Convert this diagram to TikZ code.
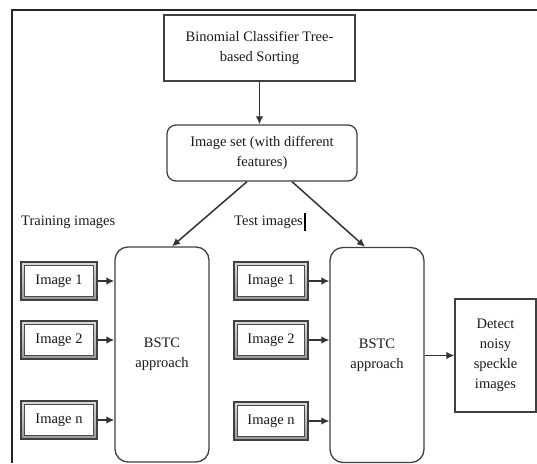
\documentclass[tikz,border=0pt]{standalone}
\usepackage{fontspec}
\setmainfont{Liberation Serif}
\usetikzlibrary{arrows.meta}
\tikzset{
  txt/.style={font=\fontsize{14.5}{20}\selectfont, text=black!90, align=center, inner sep=0pt},
  plainbox/.style={txt, draw=black!75, line width=1.3pt},
  roundbox/.style={plainbox, rounded corners=9pt},
  tallbox/.style={plainbox, rounded corners=13pt, minimum width=94pt, minimum height=215pt},
  imgbox/.style={txt, draw=black!75, line width=1.2pt, top color=black!15, bottom color=black!40,
    minimum width=76pt, minimum height=38pt},
  inner/.style={draw=black!70, line width=1pt, fill=white},
  conn/.style={draw=black!80, line width=1.5pt, -{Latex[length=8pt,width=7.5pt]}},
}
\newcommand{\imagebox}[4]{%
  % outer bevelled frame with an inner white panel
  \node[imgbox, minimum width=#3] (#1) at #2 {};
  \draw[inner] ([shift={(4pt,4pt)}]#1.south west) rectangle ([shift={(-4pt,-4pt)}]#1.north east);
  \node[txt] at (#1.center) {#4};
}
\begin{document}
\begin{tikzpicture}[x=1pt,y=-1pt]
  \useasboundingbox (0,0) rectangle (537,463);
  % page frame
  \draw[black!85, line width=1.6pt] (12,463) -- (12,10) -- (537,10);

  \node[plainbox, minimum width=191pt, minimum height=66pt] (bctree) at (259.5,48)
    {Binomial Classifier Tree-\\based Sorting};
  \node[roundbox, minimum width=190pt, minimum height=56pt] (imgset) at (262,153)
    {Image set (with different\\features)};

  \node[txt, anchor=west] (trainlbl) at (21,222) {Training images};
  \node[txt, anchor=west] (testlbl) at (234,222) {Test images};
  \draw[black, line width=1.8pt] ([xshift=2pt]testlbl.east |- 0,213) -- ([xshift=2pt]testlbl.east |- 0,231);

  \node[tallbox] (bstcA) at (162,354.5) {BSTC\\approach};
  \node[tallbox] (bstcB) at (377,355) {BSTC\\approach};

  \imagebox{trA}{(59,281)}{76pt}{Image 1}
  \imagebox{trB}{(59,340)}{76pt}{Image 2}
  \imagebox{trN}{(59,420)}{76pt}{Image n}
  \imagebox{teA}{(271,281)}{74pt}{Image 1}
  \imagebox{teB}{(271,340)}{74pt}{Image 2}
  \imagebox{teN}{(271,421)}{74pt}{Image n}

  \node[plainbox, minimum width=81pt, minimum height=113pt] (detect) at (495.5,355.5)
    {Detect\\noisy\\speckle\\images};

  % connectors
  \draw[conn] (bctree.south) -- (bctree.south |- imgset.north);
  \draw[conn] ([xshift=-15pt]imgset.south) -- ([xshift=10pt]bstcA.north);
  \draw[conn] ([xshift=30pt]imgset.south) -- ([xshift=-12pt]bstcB.north);
  \foreach \s in {trA,trB,trN}{
    \draw[conn] (\s.east) -- (\s.east -| bstcA.west);
  }
  \foreach \s in {teA,teB,teN}{
    \draw[conn] (\s.east) -- (\s.east -| bstcB.west);
  }
  \draw[conn] (bstcB.east |- detect.west) -- (detect.west);
\end{tikzpicture}
\end{document}
